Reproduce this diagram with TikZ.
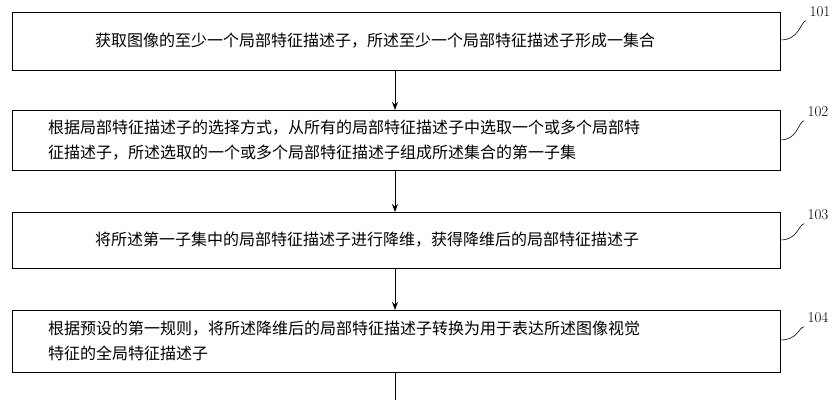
\documentclass[tikz,border=0pt]{standalone}
\usepackage{fontspec}
\usetikzlibrary{arrows.meta}
\newfontfamily\cjk{Noto Sans CJK SC}
\begin{document}
\begin{tikzpicture}[x=1pt,y=-1pt,
  boxs/.style={draw,line width=0.8pt,minimum width=768pt,anchor=north west,inner sep=0pt},
  txt/.style={anchor=west,font=\cjk\fontsize{16}{25}\selectfont,align=left,inner sep=0pt},
  lab/.style={font=\fontsize{15}{17}\selectfont},
  arr/.style={-{Stealth[length=8pt,width=6pt]},line width=0.8pt}]
\useasboundingbox (0,0) rectangle (840,400);
\node[boxs,minimum height=58pt] (b1) at (12,12) {};
\node[boxs,minimum height=60pt] (b2) at (12,110) {};
\node[boxs,minimum height=56pt] (b3) at (12,212) {};
\node[boxs,minimum height=62pt] (b4) at (12,310) {};
\node[txt] (t1) at (95,41) {获取图像的至少一个局部特征描述子，所述至少一个局部特征描述子形成一集合};
\node[txt] (t2) at (48,140) {根据局部特征描述子的选择方式，从所有的局部特征描述子中选取一个或多个局部特\\征描述子，所述选取的一个或多个局部特征描述子组成所述集合的第一子集};
\node[txt] (t3) at (95,240) {将所述第一子集中的局部特征描述子进行降维，获得降维后的局部特征描述子};
\node[txt] (t4) at (48,341) {根据预设的第一规则，将所述降维后的局部特征描述子转换为用于表达所述图像视觉\\特征的全局特征描述子};
\draw[arr] (b1.south -| 395,0) -- (b2.north -| 395,0);
\draw[arr] (b2.south -| 395,0) -- (b3.north -| 395,0);
\draw[arr] (b3.south -| 395,0) -- (b4.north -| 395,0);
\coordinate (e) at (395,400);
\draw[line width=0.8pt] (b4.south -| 395,0) -- (e);
\node[lab] (l1) at (820,12) {101};
\node[lab] (l2) at (818,112) {102};
\node[lab] (l3) at (818,215) {103};
\node[lab] (l4) at (818,318) {104};
\draw[line width=0.6pt] (780,40) .. controls (800,40) and (800,22) .. (l1.south west);
\draw[line width=0.6pt] (780,140) .. controls (798,140) and (798,122) .. (l2.south west);
\draw[line width=0.6pt] (780,240) .. controls (798,240) and (798,225) .. (l3.south west);
\draw[line width=0.6pt] (780,340) .. controls (798,340) and (798,328) .. (l4.south west);
\end{tikzpicture}
\end{document}
